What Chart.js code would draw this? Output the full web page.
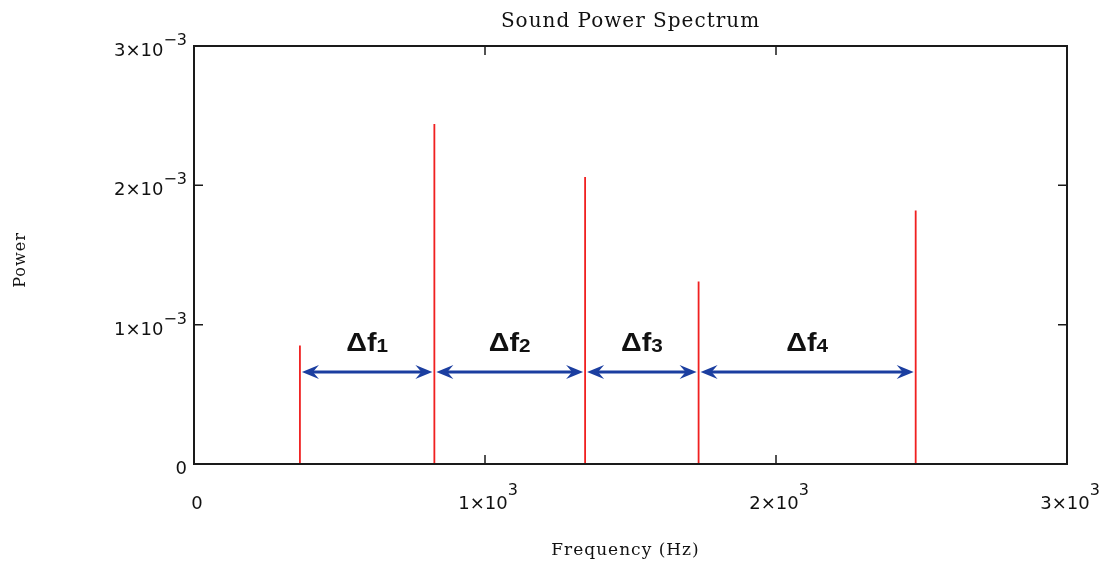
<!DOCTYPE html>
<html>
<head>
<meta charset="utf-8">
<script src="https://cdn.jsdelivr.net/npm/chart.js@4/dist/chart.umd.min.js"></script>
<style>
  html, body { margin: 0; padding: 0; background: #ffffff; }
  #wrap { width: 1104px; height: 565px; }
</style>
</head>
<body>
<div id="wrap"><canvas id="c" width="1104" height="565"></canvas></div>
<script>
// ---- data ----
const frequencies = [364, 826, 1344, 1734, 2480];          // Hz
const powers = [0.00085, 0.00244, 0.00206, 0.00131, 0.00182];
const xTickValues = [0, 1000, 2000, 3000];
const xTickMantissa = ['0', '1', '2', '3'];
const xTickExponent = ['', '3', '3', '3'];
const yTickValues = [0, 0.001, 0.002, 0.003];
const yTickMantissa = ['0', '1', '2', '3'];
const yTickExponent = ['', '\u22123', '\u22123', '\u22123'];
const intervalSubscripts = ['1', '2', '3', '4'];
const arrowLevel = 0.00066;
const titleText = 'Sound Power Spectrum';
const xTitle = 'Frequency (Hz)';
const yTitle = 'Power';

// spike line data: (f,0) -> (f,p), then a gap
const spikeData = [];
frequencies.forEach((f, i) => {
  spikeData.push({ x: f, y: 0 });
  spikeData.push({ x: f, y: powers[i] });
  spikeData.push({ x: f, y: null });
});

function drawArrowHead(ctx, x, y, dir) {
  const L = 17, W = 7, N = 11;
  ctx.beginPath();
  ctx.moveTo(x, y);
  ctx.lineTo(x - dir * L, y - W);
  ctx.lineTo(x - dir * N, y);
  ctx.lineTo(x - dir * L, y + W);
  ctx.closePath();
  ctx.fill();
}

const decorPlugin = {
  id: 'decor',
  beforeDatasetsDraw(chart) {
    const ctx = chart.ctx;
    ctx.save();
    ctx.fillStyle = '#ffffff';
    ctx.fillRect(0, 0, chart.width, chart.height);
    ctx.restore();
  },
  afterDatasetsDraw(chart) {
    const ctx = chart.ctx;
    const a = chart.chartArea;
    const xs = chart.scales.x, ys = chart.scales.y;
    ctx.save();

    // frame
    ctx.strokeStyle = '#1a1a1a';
    ctx.lineWidth = 2;
    ctx.strokeRect(a.left, a.top, a.right - a.left, a.bottom - a.top);

    // inward tick marks
    ctx.lineWidth = 1.5;
    const tl = 9;
    xTickValues.forEach(v => {
      if (v === xs.min || v === xs.max) return;
      const px = xs.getPixelForValue(v);
      ctx.beginPath();
      ctx.moveTo(px, a.bottom); ctx.lineTo(px, a.bottom - tl);
      ctx.moveTo(px, a.top); ctx.lineTo(px, a.top + tl);
      ctx.stroke();
    });
    yTickValues.forEach(v => {
      if (v === ys.min || v === ys.max) return;
      const py = ys.getPixelForValue(v);
      ctx.beginPath();
      ctx.moveTo(a.left, py); ctx.lineTo(a.left + tl, py);
      ctx.moveTo(a.right, py); ctx.lineTo(a.right - tl, py);
      ctx.stroke();
    });

    // tick labels
    ctx.fillStyle = '#111111';
    ctx.textBaseline = 'alphabetic';
    const mainFont = '18px "DejaVu Sans"';
    const supFont = '16px "DejaVu Sans"';
    // y labels
    yTickValues.forEach((v, i) => {
      const py = ys.getPixelForValue(v);
      const right = a.left - 7;
      const mainTxt = yTickMantissa[i] + (yTickExponent[i] ? '\u00d710' : '');
      ctx.font = supFont;
      const supW = yTickExponent[i] ? ctx.measureText(yTickExponent[i]).width : 0;
      ctx.font = mainFont;
      const mainW = ctx.measureText(mainTxt).width;
      ctx.textAlign = 'left';
      ctx.fillText(mainTxt, right - supW - mainW, py + 10);
      if (yTickExponent[i]) {
        ctx.font = supFont;
        ctx.fillText(yTickExponent[i], right - supW, py - 1);
      }
    });
    // x labels
    xTickValues.forEach((v, i) => {
      const px = xs.getPixelForValue(v);
      const mainTxt = xTickMantissa[i] + (xTickExponent[i] ? '\u00d710' : '');
      ctx.font = supFont;
      const supW = xTickExponent[i] ? ctx.measureText(xTickExponent[i]).width : 0;
      ctx.font = mainFont;
      const mainW = ctx.measureText(mainTxt).width;
      const start = px + 3 - (mainW + supW) / 2;
      ctx.textAlign = 'left';
      ctx.fillText(mainTxt, start, a.bottom + 45);
      if (xTickExponent[i]) {
        ctx.font = supFont;
        ctx.fillText(xTickExponent[i], start + mainW, a.bottom + 31);
      }
    });

    // titles
    ctx.textAlign = 'center';
    ctx.font = '20px "DejaVu Serif"';
    ctx.letterSpacing = '1px';
    ctx.fillText(titleText, (a.left + a.right) / 2, 27);
    ctx.font = '17px "DejaVu Serif"';
    ctx.fillText(xTitle, (a.left + a.right) / 2 - 5, 555);
    ctx.save();
    ctx.translate(25, (a.top + a.bottom) / 2 + 5);
    ctx.rotate(-Math.PI / 2);
    ctx.font = '16px "DejaVu Serif"';
    ctx.fillText(yTitle, 0, 0);
    ctx.restore();
    ctx.letterSpacing = '0px';

    // interval arrows and labels
    const ay = ys.getPixelForValue(arrowLevel);
    ctx.strokeStyle = '#1b3ea0';
    ctx.fillStyle = '#1b3ea0';
    ctx.lineWidth = 3;
    for (let i = 0; i < frequencies.length - 1; i++) {
      const x1 = xs.getPixelForValue(frequencies[i]) + 2;
      const x2 = xs.getPixelForValue(frequencies[i + 1]) - 2;
      ctx.beginPath();
      ctx.moveTo(x1 + 8, ay);
      ctx.lineTo(x2 - 8, ay);
      ctx.stroke();
      drawArrowHead(ctx, x2, ay, 1);
      drawArrowHead(ctx, x1, ay, -1);

      const mid = (x1 + x2) / 2;
      const sxScale = 1.15;
      ctx.fillStyle = '#111111';
      ctx.font = 'bold 25px "Liberation Sans"';
      const w1 = ctx.measureText('\u0394f').width * sxScale;
      ctx.font = 'bold 18px "Liberation Sans"';
      const w2 = ctx.measureText(intervalSubscripts[i]).width * sxScale;
      const sx = mid - (w1 + w2) / 2;
      ctx.textAlign = 'left';
      ctx.save();
      ctx.translate(sx, ay - 21);
      ctx.scale(sxScale, 1);
      ctx.font = 'bold 25px "Liberation Sans"';
      ctx.fillText('\u0394f', 0, 0);
      ctx.font = 'bold 18px "Liberation Sans"';
      ctx.fillText(intervalSubscripts[i], w1 / sxScale, 1);
      ctx.restore();
      ctx.fillStyle = '#1b3ea0';
    }
    ctx.restore();
  }
};

new Chart(document.getElementById('c'), {
  type: 'line',
  data: {
    datasets: [{
      label: 'Power',
      data: spikeData,
      borderColor: '#f02020',
      borderWidth: 1.8,
      pointRadius: 0,
      spanGaps: false,
      fill: false,
      tension: 0
    }]
  },
  options: {
    responsive: false,
    animation: false,
    events: [],
    layout: { padding: { left: 194, right: 37, top: 46, bottom: 101 } },
    scales: {
      x: { type: 'linear', min: 0, max: 3000, display: false },
      y: { type: 'linear', min: 0, max: 0.003, display: false }
    },
    plugins: {
      legend: { display: false },
      tooltip: { enabled: false },
      title: { display: false }
    }
  },
  plugins: [decorPlugin]
});
</script>
</body>
</html>
